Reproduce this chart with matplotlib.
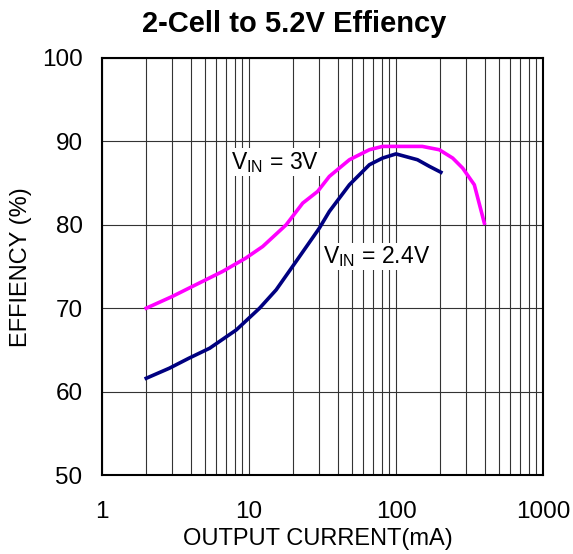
import matplotlib
matplotlib.use("Agg")
import matplotlib.pyplot as plt
from matplotlib.ticker import LogLocator, NullFormatter, FixedLocator

plt.rcParams['font.family'] = ['Liberation Sans', 'DejaVu Sans']
plt.rcParams['mathtext.fontset'] = 'custom'
plt.rcParams['mathtext.rm'] = 'Liberation Sans'

# V_IN = 3V curve
i_3v = [2.0, 3.0, 3.9, 6.6, 9.5, 12.4, 17.9, 23.2, 29.3, 35.2, 48.2, 65.9, 81,
        151, 197, 243, 284, 341, 399]
eff_3v = [70.0, 71.4, 72.4, 74.4, 76.0, 77.4, 80.0, 82.6, 84.0, 85.8, 87.8, 89.0,
          89.4, 89.4, 89.0, 88.0, 86.8, 84.8, 80.2]

# V_IN = 2.4V curve
i_24v = [2.0, 2.87, 3.9, 5.4, 8.2, 11.8, 15.3, 20.9, 30.1, 35.2, 48.2, 65.9, 81,
         100, 140, 169, 202]
eff_24v = [61.6, 62.8, 64.0, 65.2, 67.4, 70.0, 72.2, 75.6, 79.6, 81.6, 84.8, 87.2,
           88.0, 88.5, 87.8, 87.0, 86.3]

y_ticks = [50, 60, 70, 80, 90, 100]
x_ticks = [1, 10, 100, 1000]
x_tick_labels = ['1', '10', '100', '1000']

fig = plt.figure(figsize=(5.73, 5.54), dpi=100)
ax = fig.add_axes([102 / 573, 1 - 475 / 554, 441 / 573, 417 / 554])

ax.plot(i_3v, eff_3v, color='#FF00FF', lw=2.6, zorder=3)
ax.plot(i_24v, eff_24v, color='#000080', lw=2.6, zorder=3)

ax.set_xscale('log')
ax.set_xlim(1, 1000)
ax.set_ylim(50, 100)
ax.xaxis.set_major_locator(FixedLocator(x_ticks))
ax.set_xticklabels(x_tick_labels)
ax.xaxis.set_minor_locator(LogLocator(base=10, subs=range(2, 10)))
ax.xaxis.set_minor_formatter(NullFormatter())
ax.set_yticks(y_ticks)

ax.grid(True, which='both', axis='x', color='#333333', lw=0.8)
ax.grid(True, which='major', axis='y', color='#333333', lw=0.8)
ax.tick_params(which='both', length=0, labelsize=17.5)
ax.tick_params(axis='x', pad=19)
ax.tick_params(axis='y', pad=14)
for s in ax.spines.values():
    s.set_linewidth(1.5)

box = dict(facecolor='white', edgecolor='none', pad=1)
ax.text(7.6, 87.5, r'$\mathrm{V_{IN}}$ = 3V', fontsize=16.5, ha='left',
        va='center', bbox=box, zorder=2)
ax.text(32, 76.2, r'$\mathrm{V_{IN}}$ = 2.4V', fontsize=16.5, ha='left',
        va='center', bbox=box, zorder=2)

fig.text(318 / 573, 1 - 539 / 554, 'OUTPUT CURRENT(mA)', fontsize=17,
         ha='center', va='center')
fig.text(21 / 573, 1 - 267 / 554, 'EFFIENCY (%)', fontsize=17, rotation=90,
         ha='center', va='center')

fig.text(294 / 573, 1 - 24 / 554, '2-Cell to 5.2V Effiency', fontsize=21,
         fontweight='bold', ha='center', va='center')

fig.savefig('out.png', dpi=100)
